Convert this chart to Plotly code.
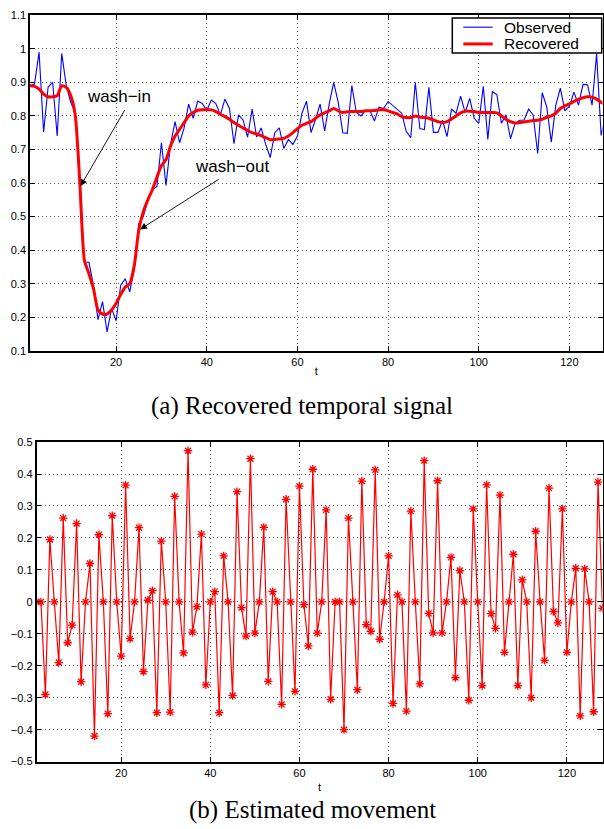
import plotly.graph_objects as go

# ---------------- data ----------------
t = list(range(1, 129))

observed = [
    0.89, 0.895, 0.99, 0.752, 0.886, 0.90, 0.74, 0.986, 0.89, 0.84,
    0.81, 0.58, 0.365, 0.364, 0.295, 0.193, 0.247, 0.157, 0.227, 0.19,
    0.295, 0.315, 0.276, 0.344, 0.48, 0.50, 0.55, 0.58, 0.59, 0.72,
    0.593, 0.715, 0.783, 0.72, 0.764, 0.835, 0.793, 0.844, 0.837, 0.817,
    0.847, 0.837, 0.803, 0.85, 0.822, 0.717, 0.803, 0.788, 0.737, 0.82,
    0.737, 0.764, 0.715, 0.676, 0.75, 0.764, 0.703, 0.73, 0.715, 0.74,
    0.808, 0.844, 0.75, 0.79, 0.835, 0.755, 0.835, 0.90, 0.84, 0.75,
    0.748, 0.89, 0.81, 0.80, 0.815, 0.815, 0.785, 0.826, 0.822, 0.843,
    0.832, 0.82, 0.808, 0.754, 0.735, 0.90, 0.762, 0.759, 0.885, 0.751,
    0.751, 0.787, 0.738, 0.82, 0.808, 0.859, 0.81, 0.852, 0.793, 0.778,
    0.888, 0.73, 0.873, 0.863, 0.778, 0.803, 0.732, 0.777, 0.787, 0.788,
    0.82, 0.803, 0.688, 0.869, 0.827, 0.722, 0.832, 0.883, 0.815, 0.829,
    0.871, 0.832, 0.894, 0.893, 0.832, 0.985, 0.742, 0.80,
]

recovered = [
    0.89, 0.888, 0.88, 0.865, 0.857, 0.857, 0.86, 0.89, 0.885, 0.86,
    0.80, 0.60, 0.37, 0.33, 0.286, 0.222, 0.21, 0.21, 0.222, 0.242,
    0.268, 0.29, 0.30, 0.354, 0.46, 0.515, 0.55, 0.58, 0.617, 0.652,
    0.67, 0.71, 0.74, 0.76, 0.78, 0.80, 0.81, 0.817, 0.818, 0.818,
    0.818, 0.813, 0.805, 0.798, 0.79, 0.78, 0.772, 0.764, 0.757, 0.75,
    0.746, 0.741, 0.735, 0.729, 0.73, 0.731, 0.733, 0.74, 0.75, 0.762,
    0.772, 0.778, 0.783, 0.793, 0.803, 0.809, 0.815, 0.822, 0.815, 0.81,
    0.812, 0.813, 0.813, 0.813, 0.815, 0.815, 0.816, 0.818, 0.818, 0.815,
    0.81, 0.806, 0.798, 0.795, 0.795, 0.80, 0.797, 0.795, 0.793, 0.788,
    0.783, 0.78, 0.783, 0.791, 0.80, 0.809, 0.814, 0.814, 0.813, 0.81,
    0.81, 0.81, 0.81, 0.809, 0.80, 0.79, 0.783, 0.779, 0.78, 0.782,
    0.784, 0.786, 0.787, 0.79, 0.796, 0.80, 0.808, 0.822, 0.83, 0.836,
    0.843, 0.849, 0.854, 0.857, 0.856, 0.85, 0.84, 0.834,
]

movement = [
    0, 0, -0.29, 0.195, 0, -0.19, 0.262, -0.128, -0.073, 0.245,
    -0.25, 0, 0.12, -0.42, 0.21, 0, -0.35, 0.27, 0, -0.17,
    0.365, -0.115, 0, 0.232, -0.218, 0.005, 0.035, -0.347, 0.19, 0,
    -0.345, 0.33, 0, -0.16, 0.473, -0.095, -0.015, 0.212, -0.26, 0,
    0.032, -0.347, 0.144, 0, -0.293, 0.345, -0.018, -0.107, 0.448, -0.098,
    0, 0.233, -0.249, 0.032, 0, -0.321, 0.321, 0, -0.28, 0.362,
    -0.009, -0.138, 0.415, -0.098, 0, 0.288, -0.305, 0, 0, -0.40,
    0.262, 0, -0.275, 0.378, -0.071, -0.092, 0.413, -0.117, 0, 0.144,
    -0.318, 0.022, 0, -0.342, 0.284, 0, -0.257, 0.442, -0.036, -0.097,
    0.379, -0.097, 0, 0.139, -0.237, 0.098, 0, -0.308, 0.291, 0,
    -0.262, 0.366, -0.037, -0.083, 0.334, -0.158, 0, 0.149, -0.262, 0.069,
    0, -0.30, 0.221, 0, -0.183, 0.356, -0.03, -0.066, 0.291, -0.158,
    0, 0.105, -0.357, 0.103, 0, -0.344, 0.375, -0.02,
]

x_ticks = [20, 40, 60, 80, 100, 120]
top_y_ticks = [0.1, 0.2, 0.3, 0.4, 0.5, 0.6, 0.7, 0.8, 0.9, 1.0, 1.1]
bottom_y_ticks = [-0.5, -0.4, -0.3, -0.2, -0.1, 0, 0.1, 0.2, 0.3, 0.4, 0.5]

series_names = ["Observed", "Recovered"]
caption_a = "(a) Recovered temporal signal"
caption_b = "(b) Estimated movement"

# ---------------- figure ----------------
W, H = 604, 829
SANS = "Liberation Sans, Arial, Helvetica, sans-serif"
SERIF = "Liberation Serif, Times New Roman, serif"
BLUE, RED = "#0000ff", "#ff0000"


def px_x(p):
    return p / W


def px_y(p):
    return 1 - p / H


fig = go.Figure()

fig.add_trace(go.Scatter(
    x=t, y=observed, mode="lines", name=series_names[0],
    line=dict(color=BLUE, width=1.1),
    xaxis="x", yaxis="y", showlegend=False,
))
fig.add_trace(go.Scatter(
    x=t, y=recovered, mode="lines", name=series_names[1],
    line=dict(color=RED, width=3, shape="spline", smoothing=0.6),
    xaxis="x", yaxis="y", showlegend=False,
))
fig.add_trace(go.Scatter(
    x=t, y=movement, mode="lines+markers", name="Estimated movement",
    line=dict(color=RED, width=1.2),
    marker=dict(symbol="asterisk-open", size=7, color=RED,
                line=dict(color=RED, width=1.3)),
    xaxis="x2", yaxis="y2", showlegend=False,
))

common_axis = dict(
    showline=True, linecolor="black", linewidth=1.6, mirror="ticks",
    ticks="inside", ticklen=5, tickwidth=1, tickcolor="black",
    showgrid=True, gridcolor="#555555", gridwidth=1, griddash="1px,3px",
    zeroline=False,
    tickfont=dict(family=SANS, size=11, color="black"),
)
title_font = dict(family=SANS, size=11, color="black")

fig.update_layout(
    width=W, height=H,
    margin=dict(l=0, r=0, t=0, b=0),
    paper_bgcolor="white", plot_bgcolor="white",
    showlegend=False,
    xaxis=dict(common_axis, domain=[px_x(30), px_x(602.5)], range=[1, 127.3],
               tickvals=x_ticks, anchor="y",
               title=dict(text="t", font=title_font, standoff=0)),
    yaxis=dict(common_axis, domain=[px_y(350), px_y(9.3)], range=[0.1, 1.1],
               tickvals=top_y_ticks, anchor="x"),
    xaxis2=dict(common_axis, domain=[px_x(36.5), px_x(602.5)], range=[1, 128],
                tickvals=x_ticks, anchor="y2",
                title=dict(text="t", font=title_font, standoff=6)),
    yaxis2=dict(common_axis, domain=[px_y(766.7), px_y(442.5)], range=[-0.5, 0.5],
                tickvals=bottom_y_ticks, anchor="x2"),
)

# ---- legend box (MATLAB style) ----
lg_x0, lg_x1, lg_y0, lg_y1 = 452.3, 601.7, 12.3, 47.7
fig.add_shape(type="rect", xref="paper", yref="paper",
              x0=px_x(lg_x0), x1=px_x(lg_x1), y0=px_y(lg_y1), y1=px_y(lg_y0),
              line=dict(color="black", width=1.5), fillcolor="white", layer="above")
for name, color, width, yy in [(series_names[0], BLUE, 1.1, 21.5),
                               (series_names[1], RED, 3, 38.5)]:
    fig.add_shape(type="line", xref="paper", yref="paper",
                  x0=px_x(463.3), x1=px_x(492.7), y0=px_y(yy), y1=px_y(yy),
                  line=dict(color=color, width=width), layer="above")
    fig.add_annotation(x=px_x(502.5), y=px_y(yy), xref="paper", yref="paper",
                       text=name, showarrow=False, xanchor="left", yanchor="middle",
                       font=dict(family=SANS, size=15.5, color="black"),
                       borderpad=0)

# annotations: wash-in / wash-out labels and arrows
ann_font = dict(family=SANS, size=17, color="black")
fig.add_annotation(x=20.7, y=0.858, xref="x", yref="y", text="wash\u2212in",
                   showarrow=False, font=ann_font)
fig.add_annotation(x=12.15, y=0.591, ax=22.1, ay=0.822, xref="x", yref="y",
                   axref="x", ayref="y", text="", showarrow=True,
                   arrowhead=2, arrowsize=1.5, arrowwidth=0.9, arrowcolor="black")
fig.add_annotation(x=45.6, y=0.65, xref="x", yref="y", text="wash\u2212out",
                   showarrow=False, font=ann_font)
fig.add_annotation(x=25.3, y=0.462, ax=42.97, ay=0.614, xref="x", yref="y",
                   axref="x", ayref="y", text="", showarrow=True,
                   arrowhead=2, arrowsize=1.5, arrowwidth=0.9, arrowcolor="black")

# captions
fig.add_annotation(x=px_x(301.5), y=px_y(405.5), xref="paper", yref="paper", text=caption_a,
                   showarrow=False, font=dict(family=SERIF, size=25, color="black"),
                   xanchor="center", yanchor="middle")
fig.add_annotation(x=px_x(312.5), y=px_y(816), xref="paper", yref="paper", text=caption_b,
                   showarrow=False, font=dict(family=SERIF, size=25, color="black"),
                   xanchor="center", yanchor="middle")

# remove the default page margin so the 604x829 figure fills the window exactly
fig.write_html(
    "out.html",
    config={"displayModeBar": False},
    post_script="document.body.style.margin='0';document.body.style.overflow='hidden';",
)
